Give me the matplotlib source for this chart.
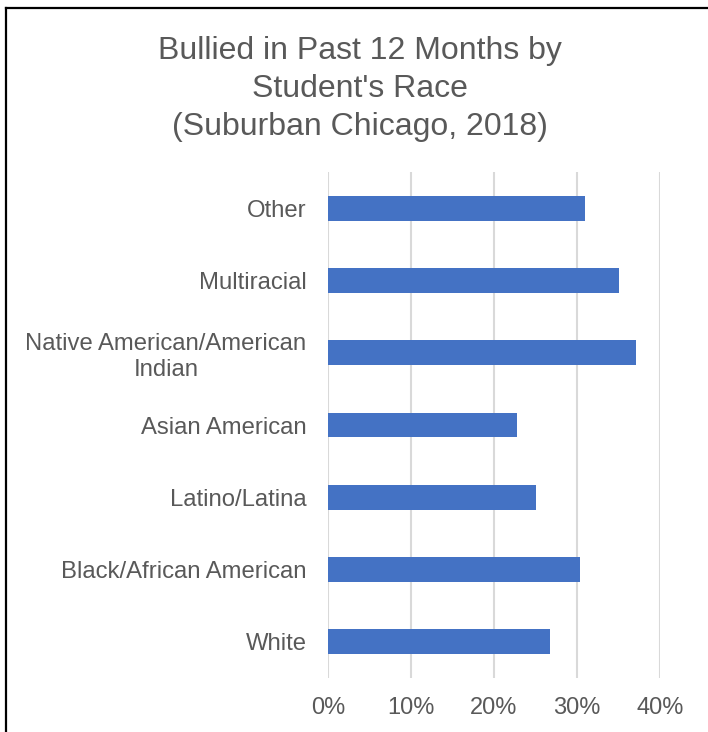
import matplotlib.pyplot as plt
from matplotlib.lines import Line2D
from matplotlib.ticker import PercentFormatter

plt.rcParams['font.family'] = ['Liberation Sans', 'DejaVu Sans']

# bottom-to-top order
races = ['White', 'Black/African American', 'Latino/Latina', 'Asian American',
         'Native American/American\nIndian', 'Multiracial', 'Other']
bullied = [0.267, 0.304, 0.250, 0.228, 0.371, 0.351, 0.310]
x_ticks = [0, 0.1, 0.2, 0.3, 0.4]

text_color = '#595959'
bar_color = '#4472C4'
grid_color = '#D9D9D9'

fig = plt.figure(figsize=(7.08, 7.32), dpi=100)
ax = fig.add_axes([328 / 708, 1 - 678 / 732, 332 / 708, 506 / 732])

ypos = range(len(races))
ax.barh(ypos, bullied, height=0.345, color=bar_color, zorder=3)

ax.set_xlim(0, 0.4)
ax.set_ylim(-0.5, len(races) - 0.5)
ax.set_xticks(x_ticks)
ax.xaxis.set_major_formatter(PercentFormatter(1.0, decimals=0))
ax.set_yticks(list(ypos))
ax.set_yticklabels(races, multialignment='center', linespacing=1.25)
ax.tick_params(axis='both', length=0, colors=text_color)
ax.tick_params(axis='y', pad=15.5, labelsize=17.2)
ax.tick_params(axis='x', pad=14, labelsize=17)
ax.grid(axis='x', color=grid_color, linewidth=1.5, zorder=0)
for s in ax.spines.values():
    s.set_visible(False)

fig.text(0.508, 1 - 89 / 732,
         "Bullied in Past 12 Months by\nStudent's Race\n(Suburban Chicago, 2018)",
         ha='center', va='center', fontsize=23, color=text_color, linespacing=1.33)

# outer frame (left and top edges)
fx = 6 / 708
fy = 1 - 8 / 732
fig.add_artist(Line2D([fx, fx], [0, fy], transform=fig.transFigure, color='black', linewidth=1.6))
fig.add_artist(Line2D([fx, 1], [fy, fy], transform=fig.transFigure, color='black', linewidth=1.6))

fig.savefig('out.png', dpi=100, facecolor='white')
